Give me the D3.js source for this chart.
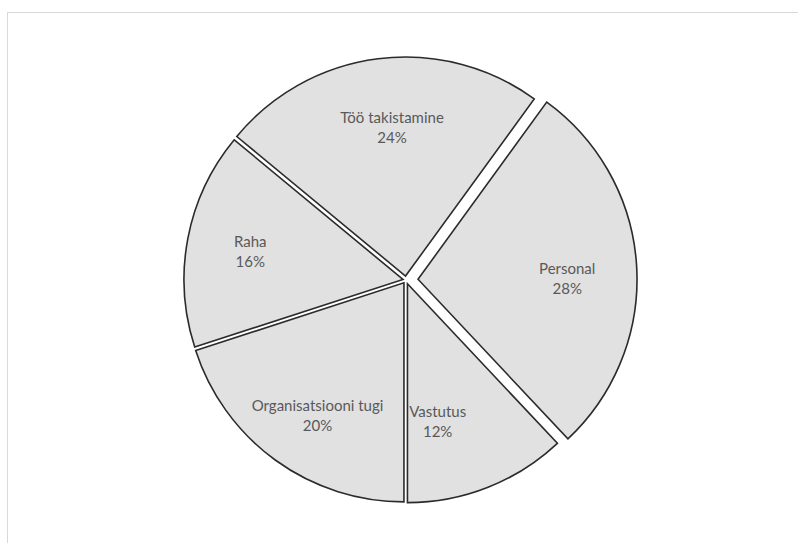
<!DOCTYPE html>
<html>
<head>
<meta charset="utf-8">
<script src="https://cdn.jsdelivr.net/npm/d3@7"></script>
<style>
  html, body { margin: 0; padding: 0; background: #fff; }
  svg { display: block; }
</style>
</head>
<body>
<svg id="chart" width="798" height="543"></svg>
<script>
const categories = ["Personal", "Vastutus", "Organisatsiooni tugi", "Raha", "Töö takistamine"];
const values = [28, 12, 20, 16, 24];
const explode = [0.055, 0.018, 0.016, 0.014, 0.018];

const W = 798, H = 543;
const cx = 406, cy = 280, R = 219;
const startAngle = 36 * Math.PI / 180;
// small label adjustments (Excel best-fit placement), in px
const labelNudge = [[-6, 10], [-27, -6], [5, 7], [0, 2], [6, 6]];

const svg = d3.select("#chart");

// chart-area frame
svg.append("rect")
  .attr("x", 7.5).attr("y", 12.5)
  .attr("width", 1000).attr("height", 1000)
  .attr("fill", "none")
  .attr("stroke", "#d9d9d9")
  .attr("stroke-width", 1);

const pie = d3.pie().sort(null).value(d => d.value)
  .startAngle(startAngle).endAngle(startAngle + 2 * Math.PI);

const data = categories.map((c, i) => ({ name: c, value: values[i], explode: explode[i], idx: i }));
const arcs = pie(data);
const total = d3.sum(values);

const arc = d3.arc().innerRadius(0).outerRadius(R);
const labelArc = d3.arc().innerRadius(0).outerRadius(R * 1.42);

const g = svg.append("g").attr("transform", `translate(${cx},${cy})`);

const slice = g.selectAll("g.slice").data(arcs).enter().append("g")
  .attr("class", "slice")
  .attr("transform", d => {
    const a = (d.startAngle + d.endAngle) / 2;
    const off = d.data.explode * R;
    return `translate(${Math.sin(a) * off},${-Math.cos(a) * off})`;
  });

slice.append("path")
  .attr("d", arc)
  .attr("fill", "#e1e1e1")
  .attr("stroke", "#2b2b2b")
  .attr("stroke-width", 1.6)
  .attr("stroke-linejoin", "miter");

const txt = slice.append("text")
  .attr("transform", d => {
    const [x, y] = labelArc.centroid(d);
    const n = labelNudge[d.data.idx];
    return `translate(${x + n[0]},${y + n[1]})`;
  })
  .attr("text-anchor", "middle")
  .attr("font-family", "Lato, 'Open Sans', sans-serif")
  .attr("font-size", 15)
  .attr("fill", "#595959");

txt.append("tspan").attr("x", 0).attr("dy", -5).text(d => d.data.name);
txt.append("tspan").attr("x", 0).attr("dy", 20)
  .text(d => Math.round(d.data.value / total * 100) + "%");
</script>
</body>
</html>
